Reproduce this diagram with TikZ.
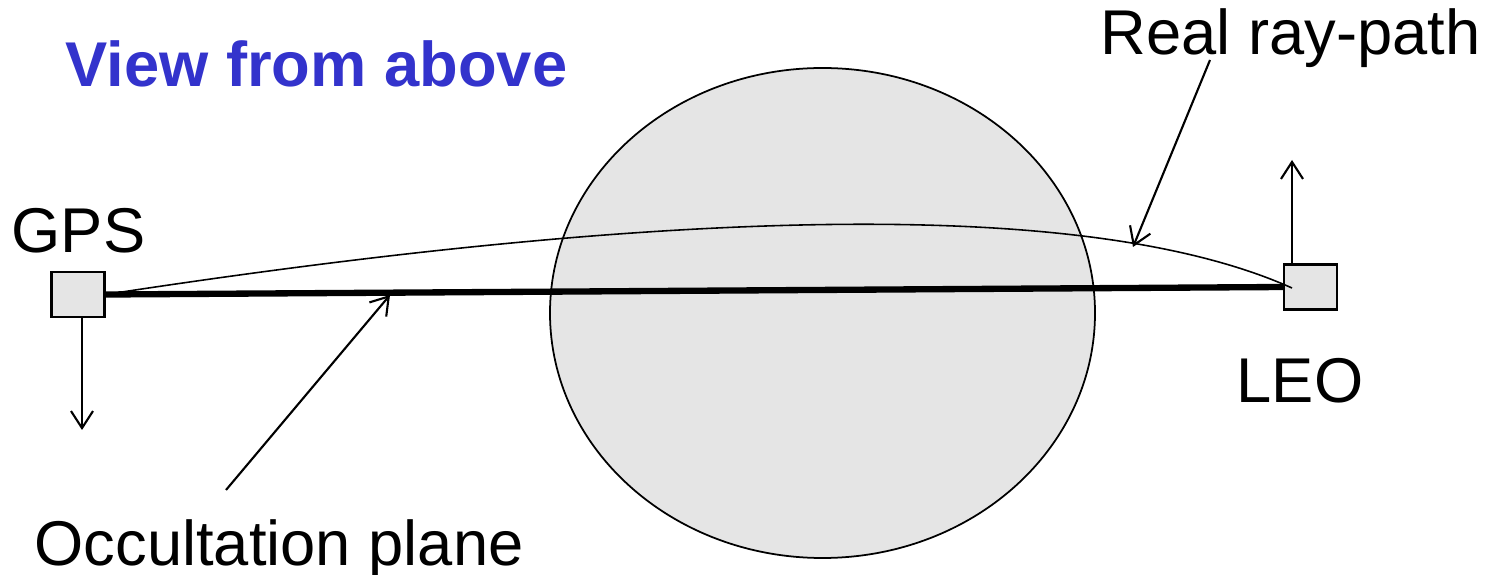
\documentclass[tikz,border=0pt]{standalone}
\usepackage{fontspec}
\setmainfont{Liberation Sans}
\usepackage{xcolor}
\definecolor{titleblue}{RGB}{51,51,204}
\usetikzlibrary{shapes.geometric,arrows.meta}

\begin{document}
\begin{tikzpicture}[
  sat/.style={draw, fill=gray!20, minimum width=0.53cm, minimum height=0.45cm, inner sep=0pt, line width=0.6pt},
  lbl/.style={font=\fontsize{18}{22}\selectfont, inner sep=0pt, anchor=base west},
  ptr/.style={line width=0.6pt, -{Straight Barb[length=1.7mm,width=2.2mm]}}
]
\useasboundingbox (0,0) rectangle (14.95,-5.75);

% Title
\node[lbl, font=\fontsize{18}{22}\selectfont\bfseries, text=titleblue] (title) at (0.65,-0.87) {View from above};

% Earth
\node[ellipse, draw, fill=gray!20, minimum width=5.45cm, minimum height=4.9cm, line width=0.5pt] (earth) at (8.225,-3.13) {};

% Satellites
\node[sat] (gps) at (0.78,-2.945) {};
\node[sat] (leo) at (13.105,-2.87) {};
\node[lbl] (gpslbl) at (0.11,-2.53) {GPS};
\node[lbl] (leolbl) at (12.36,-4.03) {LEO};

% Velocities
\coordinate (gv) at (0.82,-4.30);
\coordinate (lv) at (12.92,-1.60);
\draw[ptr] (gps.south -| gv) -- (gv);
\draw[ptr] (leo.north -| lv) -- (lv);

% Straight and bent ray
\coordinate (rx) at (12.92,-2.88);
\draw[line width=1.8pt] (gps.east) -- (leo.west);
\draw[line width=0.45pt] (gps.east) .. controls (7.02,-2.03) and (10.98,-2.01) .. (rx);

% Labels with pointers
\node[lbl] (raylbl) at (11.00,-0.55) {Real ray-path};
\node[lbl] (planelbl) at (0.34,-5.66) {Occultation plane};
\coordinate (rp) at (12.10,-0.60);
\coordinate (rt) at (11.33,-2.47);
\coordinate (pp) at (2.26,-4.90);
\coordinate (pt) at (3.90,-2.95);
\draw[ptr] (rp) -- (rt);
\draw[ptr] (pp) -- (pt);

\end{tikzpicture}
\end{document}
